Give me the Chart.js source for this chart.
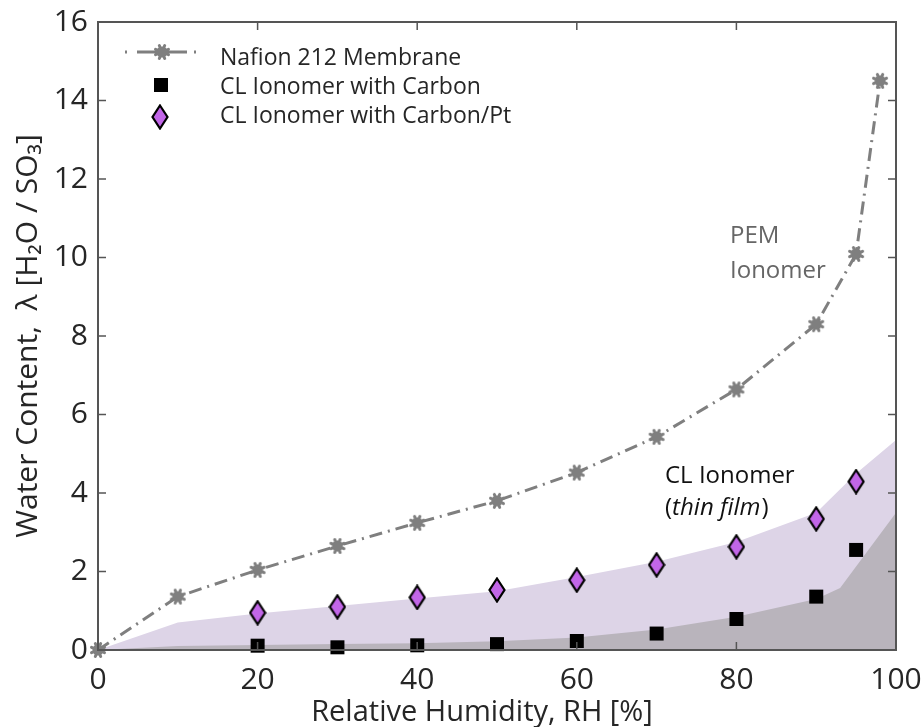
<!DOCTYPE html>
<html><head><meta charset="utf-8">
<script src="https://cdn.jsdelivr.net/npm/chart.js@4.4.0/dist/chart.umd.min.js"></script>
<style>html,body{margin:0;padding:0;background:#fff;}#wrap{width:922px;height:727px;}</style>
</head><body><div id="wrap"><canvas id="c" width="922" height="727"></canvas></div>
<script>
// ---- data ----
const rhNafion = [0, 10, 20, 30, 40, 50, 60, 70, 80, 90, 95, 98];
const lambdaNafion = [0, 1.36, 2.04, 2.65, 3.24, 3.80, 4.52, 5.43, 6.64, 8.30, 10.09, 14.5];
const rhCL = [20, 30, 40, 50, 60, 70, 80, 90, 95];
const lambdaCarbon = [0.11, 0.07, 0.12, 0.15, 0.23, 0.42, 0.79, 1.36, 2.55];
const lambdaCarbonPt = [0.95, 1.10, 1.34, 1.53, 1.78, 2.17, 2.63, 3.34, 4.29];
const rhBandPt = [0, 10, 20, 30, 40, 50, 60, 70, 80, 90, 95, 100];
const lambdaBandPt = [0, 0.70, 0.93, 1.12, 1.31, 1.50, 1.86, 2.25, 2.75, 3.50, 4.50, 5.35];
const rhBandC = [0, 10, 20, 30, 40, 50, 60, 70, 80, 90, 93, 100];
const lambdaBandC = [0, 0.10, 0.13, 0.15, 0.17, 0.22, 0.32, 0.52, 0.85, 1.30, 1.58, 3.50];
const xTicks = [0, 20, 40, 60, 80, 100];
const yTicks = [0, 2, 4, 6, 8, 10, 12, 14, 16];
const seriesLabels = ['Nafion 212 Membrane', 'CL Ionomer with Carbon', 'CL Ionomer with Carbon/Pt'];
const xTitle = 'Relative Humidity, RH [%]';
const yTitle = 'Water Content,  λ [H₂O / SO₃]';
const noteTop = ['PEM', 'Ionomer'];
const noteBottom = ['CL Ionomer', 'thin film'];

const FONT = "'Open Sans', 'DejaVu Sans', sans-serif";
const TXT = '#262626';
const GRAY = '#7f7f7f';

function pts(xs, ys) { return xs.map((x, i) => ({x: x, y: ys[i]})); }
function mk(w, h, fn) { const c = document.createElement('canvas'); c.width = w; c.height = h; fn(c.getContext('2d'), w, h); return c; }

const starImg = mk(18, 18, (g, w, h) => {
  g.fillStyle = GRAY; g.strokeStyle = GRAY; g.lineWidth = 3; g.lineCap = 'round';
  for (let k = 0; k < 8; k++) {
    const a = k * Math.PI / 4 + Math.PI / 8;
    g.beginPath(); g.moveTo(9, 9); g.lineTo(9 + 7 * Math.cos(a), 9 + 7 * Math.sin(a)); g.stroke();
  }
  g.beginPath(); g.arc(9, 9, 5.5, 0, Math.PI * 2); g.fill();
});
const squareImg = mk(16, 16, (g) => { g.fillStyle = '#000'; g.fillRect(1, 1, 14, 14); });
const diamondImg = mk(18, 26, (g) => {
  g.beginPath(); g.moveTo(9, 1.5); g.lineTo(16.5, 13); g.lineTo(9, 24.5); g.lineTo(1.5, 13); g.closePath();
  g.fillStyle = '#c266e8'; g.fill(); g.lineWidth = 2.2; g.strokeStyle = '#000'; g.lineJoin = 'miter'; g.stroke();
});

const overlay = {
  id: 'overlay',
  afterDatasetsDraw(chart) {
    const {ctx, chartArea: a, scales} = chart;
    ctx.save();
    // box
    ctx.strokeStyle = '#555'; ctx.lineWidth = 2;
    ctx.strokeRect(a.left, a.top, a.right - a.left, a.bottom - a.top);
    // inward ticks
    ctx.lineWidth = 1.5; ctx.strokeStyle = '#555';
    const L = 8;
    xTicks.forEach(v => {
      const px = scales.x.getPixelForValue(v);
      ctx.beginPath(); ctx.moveTo(px, a.bottom); ctx.lineTo(px, a.bottom - L);
      ctx.moveTo(px, a.top); ctx.lineTo(px, a.top + L); ctx.stroke();
    });
    yTicks.forEach(v => {
      const py = scales.y.getPixelForValue(v);
      ctx.beginPath(); ctx.moveTo(a.left, py); ctx.lineTo(a.left + L, py);
      ctx.moveTo(a.right, py); ctx.lineTo(a.right - L, py); ctx.stroke();
    });
    // legend
    ctx.strokeStyle = GRAY; ctx.lineWidth = 3; ctx.lineCap = 'butt';
    const ly = 52;
    ctx.beginPath();
    ctx.moveTo(125, ly); ctx.lineTo(127, ly);
    ctx.moveTo(137, ly); ctx.lineTo(187, ly);
    ctx.moveTo(194, ly); ctx.lineTo(196, ly);
    ctx.stroke();
    ctx.drawImage(starImg, 162 - 9, ly - 9);
    ctx.drawImage(squareImg, 161 - 8, 85 - 8);
    ctx.drawImage(diamondImg, 160 - 9, 117 - 13);
    ctx.fillStyle = TXT; ctx.font = '23px ' + FONT; ctx.textAlign = 'left'; ctx.textBaseline = 'alphabetic';
    ctx.fillText(seriesLabels[0], 220, 65);
    ctx.fillText(seriesLabels[1], 220, 94);
    ctx.fillText(seriesLabels[2], 220, 123);
    // notes
    ctx.font = '24px ' + FONT;
    ctx.fillStyle = '#666';
    ctx.fillText(noteTop[0], 730, 243);
    ctx.fillText(noteTop[1], 730, 278);
    ctx.fillStyle = '#111';
    ctx.fillText(noteBottom[0], 665, 483);
    ctx.fillText('(', 665, 515);
    let w = ctx.measureText('(').width;
    ctx.font = 'italic 24px ' + FONT;
    ctx.fillText(noteBottom[1], 665 + w, 515);
    const w2 = ctx.measureText(noteBottom[1]).width;
    ctx.font = '24px ' + FONT;
    ctx.fillText(')', 665 + w + w2 + 1, 515);
    // x title
    ctx.fillStyle = TXT; ctx.font = '29px ' + FONT; ctx.textAlign = 'center'; ctx.textBaseline = 'middle';
    ctx.fillText(xTitle, 482, 713);
    ctx.restore();
  }
};

new Chart(document.getElementById('c'), {
  type: 'scatter',
  data: {
    datasets: [
      {label: seriesLabels[0], data: pts(rhNafion, lambdaNafion), showLine: true, borderColor: GRAY, borderWidth: 3,
       borderDash: [13, 6, 2, 6], pointStyle: starImg, pointRadius: 8, clip: false, fill: false},
      {label: seriesLabels[2], data: pts(rhCL, lambdaCarbonPt), showLine: false, pointStyle: diamondImg, pointRadius: 10, clip: false},
      {label: seriesLabels[1], data: pts(rhCL, lambdaCarbon), showLine: false, pointStyle: squareImg, pointRadius: 8, clip: false},
      {label: 'band C', data: pts(rhBandC, lambdaBandC), showLine: true, borderWidth: 0, borderColor: 'rgba(0,0,0,0)',
       backgroundColor: '#b9b4bc', fill: 'origin', pointRadius: 0},
      {label: 'band Pt', data: pts(rhBandPt, lambdaBandPt), showLine: true, borderWidth: 0, borderColor: 'rgba(0,0,0,0)',
       backgroundColor: '#ddd4e7', fill: 'origin', pointRadius: 0}
    ]
  },
  options: {
    responsive: false, animation: false, events: [],
    layout: {padding: {top: 22, right: 26, left: 0, bottom: 0}},
    plugins: {legend: {display: false}, tooltip: {enabled: false}},
    scales: {
      x: {type: 'linear', min: 0, max: 100,
          afterBuildTicks: s => { s.ticks = xTicks.map(v => ({value: v})); },
          grid: {display: false, drawTicks: false}, border: {display: false},
          ticks: {font: {family: FONT, size: 30}, color: TXT, padding: 12, maxRotation: 0, autoSkip: false},
          afterFit: s => { s.height = 77; s.paddingLeft = 0; s.paddingRight = 0; }},
      y: {type: 'linear', min: 0, max: 16,
          afterBuildTicks: s => { s.ticks = yTicks.map(v => ({value: v})); },
          grid: {display: false, drawTicks: false}, border: {display: false},
          ticks: {font: {family: FONT, size: 30}, color: TXT, padding: 10, autoSkip: false},
          title: {display: true, text: yTitle, color: TXT, font: {family: FONT, size: 30, lineHeight: 1}, padding: {top: 13, bottom: 0}},
          afterFit: s => { s.width = 98; s.paddingTop = 0; s.paddingBottom = 0; }}
    }
  },
  plugins: [overlay]
});
</script></body></html>
